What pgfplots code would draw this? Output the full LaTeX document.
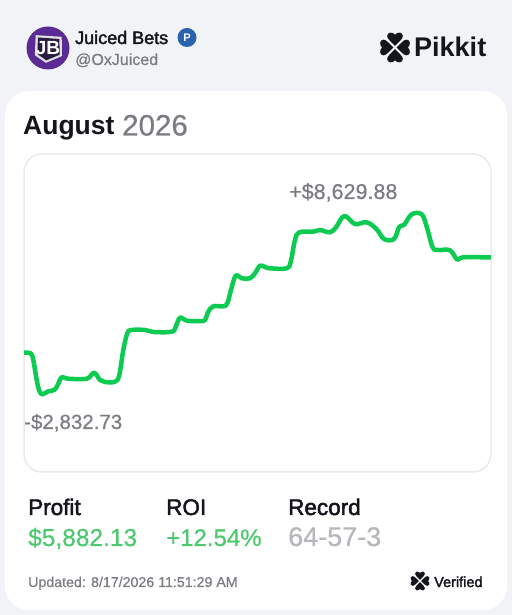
\documentclass[border=0pt]{standalone}
\usepackage{fontspec}
\setmainfont[RawFeature={embolden=0.5}]{Liberation Sans}
\newfontfamily\medf[RawFeature={embolden=2.2}]{Liberation Sans}
\newfontfamily\semif{Liberation Sans Bold}
\usepackage{pgfplots}
\pgfplotsset{compat=1.18}
\definecolor{bgc}{HTML}{F2F3F7}
\definecolor{ink}{HTML}{14161C}
\definecolor{graytxt}{HTML}{7B7C82}
\definecolor{linec}{HTML}{0CCB50}
\definecolor{statgreen}{HTML}{4CC96E}
\definecolor{recgray}{HTML}{B6B7BA}
\definecolor{panelb}{HTML}{E9EAEC}
\definecolor{purp}{HTML}{5B2A92}
\definecolor{badge}{HTML}{2A62AE}
\newcommand{\fs}[1]{\fontsize{#1}{#1}\selectfont}
\newcommand{\clover}[3]{%
\begin{scope}[shift={(#1,#2)},scale=#3]
\foreach \a in {0,90,180,270}{
\fill[ink,rotate=\a] (.12,0) -- (.5,-.38)
 .. controls (.62,-.5) and (.72,-.56) .. (.82,-.56)
 .. controls (1.08,-.56) and (1.16,-.2) .. (.92,0)
 .. controls (1.16,.2) and (1.08,.56) .. (.82,.56)
 .. controls (.72,.56) and (.62,.5) .. (.5,.38) -- cycle;}
\end{scope}}
\begin{document}
\begin{tikzpicture}
\useasboundingbox (0,0) rectangle (512pt,615pt);
\begin{scope}[x=1pt,y=-1pt,shift={(0pt,615pt)}]
\fill[bgc] (0,0) rectangle (512,615);
\fill[white] (5,91) [rounded corners=24pt] rectangle (507,610);
\draw[panelb,line width=1.5pt,fill=white,rounded corners=18pt] (24,154) rectangle (491,472);
% header
\fill[purp] (48,48) circle (21.5);
\fill[white!88!black,rotate around={-8:(48,48)}] (34,37) -- (60,35) -- (63,54) -- (48,63) -- (36,57) -- cycle;
\fill[ink!70!purp,rotate around={-8:(48,48)}] (36.5,39) -- (58,37.5) -- (60.5,53) -- (48,60.5) -- (38.5,55.5) -- cycle;
\node[anchor=center,inner sep=0pt,text=white] at (48,48.5) {\semif\fs{19}JB};
\node[anchor=base west,inner sep=0pt,text=ink] at (75,44) {\medf\fs{18}Juiced Bets};
\node[anchor=base west,inner sep=0pt,text=graytxt] at (75,65) {\fs{16}@OxJuiced};
\fill[badge] (187,37.5) circle (9.5);
\node[anchor=center,inner sep=0pt,text=white] at (187,37.5) {\semif\fs{11}P};
\clover{395}{47.5}{14}
\node[anchor=base west,inner sep=0pt,text=ink] at (414,57) {\semif\fs{27}Pikkit};
% title
\node[anchor=base west,inner sep=0pt,text=ink] at (23,135) {\semif\fs{26.5}August};
\node[anchor=base west,inner sep=0pt,text=graytxt] at (122,135.5) {\fs{29.5}2026};
% annotations
\node[anchor=base west,inner sep=0pt,text=graytxt] at (289,199) {\fs{21.5}+\$8,629.88};
\node[anchor=base west,inner sep=0pt,text=graytxt] at (24,429) {\fs{20.5}-\$2,832.73};
% stats
\node[anchor=base west,inner sep=0pt,text=ink] at (28,515) {\medf\fs{22.5}Profit};
\node[anchor=base west,inner sep=0pt,text=ink] at (166,515) {\medf\fs{22.5}ROI};
\node[anchor=base west,inner sep=0pt,text=ink] at (288,515) {\medf\fs{22.5}Record};
\node[anchor=base west,inner sep=0pt,text=statgreen] at (28,546) {\fs{24.5}\$5,882.13};
\node[anchor=base west,inner sep=0pt,text=statgreen] at (166,546) {\fs{24}+12.54\%};
\node[anchor=base west,inner sep=0pt,text=recgray] at (288,546) {\fs{27}64-57-3};
\node[anchor=base west,inner sep=0pt,text=graytxt] at (28,587) {\fs{14.2}Updated: 8/17/2026 11:51:29 AM};
\clover{420}{581}{9}
\node[anchor=base west,inner sep=0pt,text=ink] at (434,587) {\medf\fs{14.5}Verified};
\end{scope}
\begin{axis}[
  at={(24pt,143pt)},anchor=south west,
  width=467pt,height=319pt,scale only axis,hide axis,
  xmin=24,xmax=491,ymin=-7780,ymax=12534]
\addplot[linec,line width=4.5pt,smooth,tension=0.6,line join=round] coordinates {
(20,-183)(24,-183)(30.7,-222)(33.3,-648)(36.7,-1922)(39.3,-2603)(42.3,-2833)
(48.3,-2641)(54.3,-2559)(57.7,-2240)(61.7,-1750)(68.3,-1839)(86.7,-1839)(94,-1457)
(100,-1922)(105,-2049)(115,-2030)(119.3,-1603)(123.3,-11)(127.3,1052)(131.7,1262)
(145,1262)(153.3,1135)(171.7,1154)(175.7,1472)(180,2045)(186.7,1854)(200,1835)
(205,1899)(208.3,2428)(213.3,2772)(223.3,2772)(227.3,2962)(231,3809)(235.7,4720)
(241.7,4554)(250,4554)(255,4873)(260,5357)(265,5274)(270,5191)(286.7,5191)
(290.7,5612)(295,6993)(299.3,7484)(313.3,7522)(320,7630)(330,7484)(336,7802)
(344.3,8522)(355,8012)(366.7,8121)(376.7,7675)(384,7057)(394,7057)(399.3,7840)
(404,7949)(411.7,8630)(421.7,8630)(426.7,7840)(432.7,6529)(438.3,6357)(450,6338)
(457.3,5739)(463.3,5892)(491,5882)};
\end{axis}
\end{tikzpicture}
\end{document}
